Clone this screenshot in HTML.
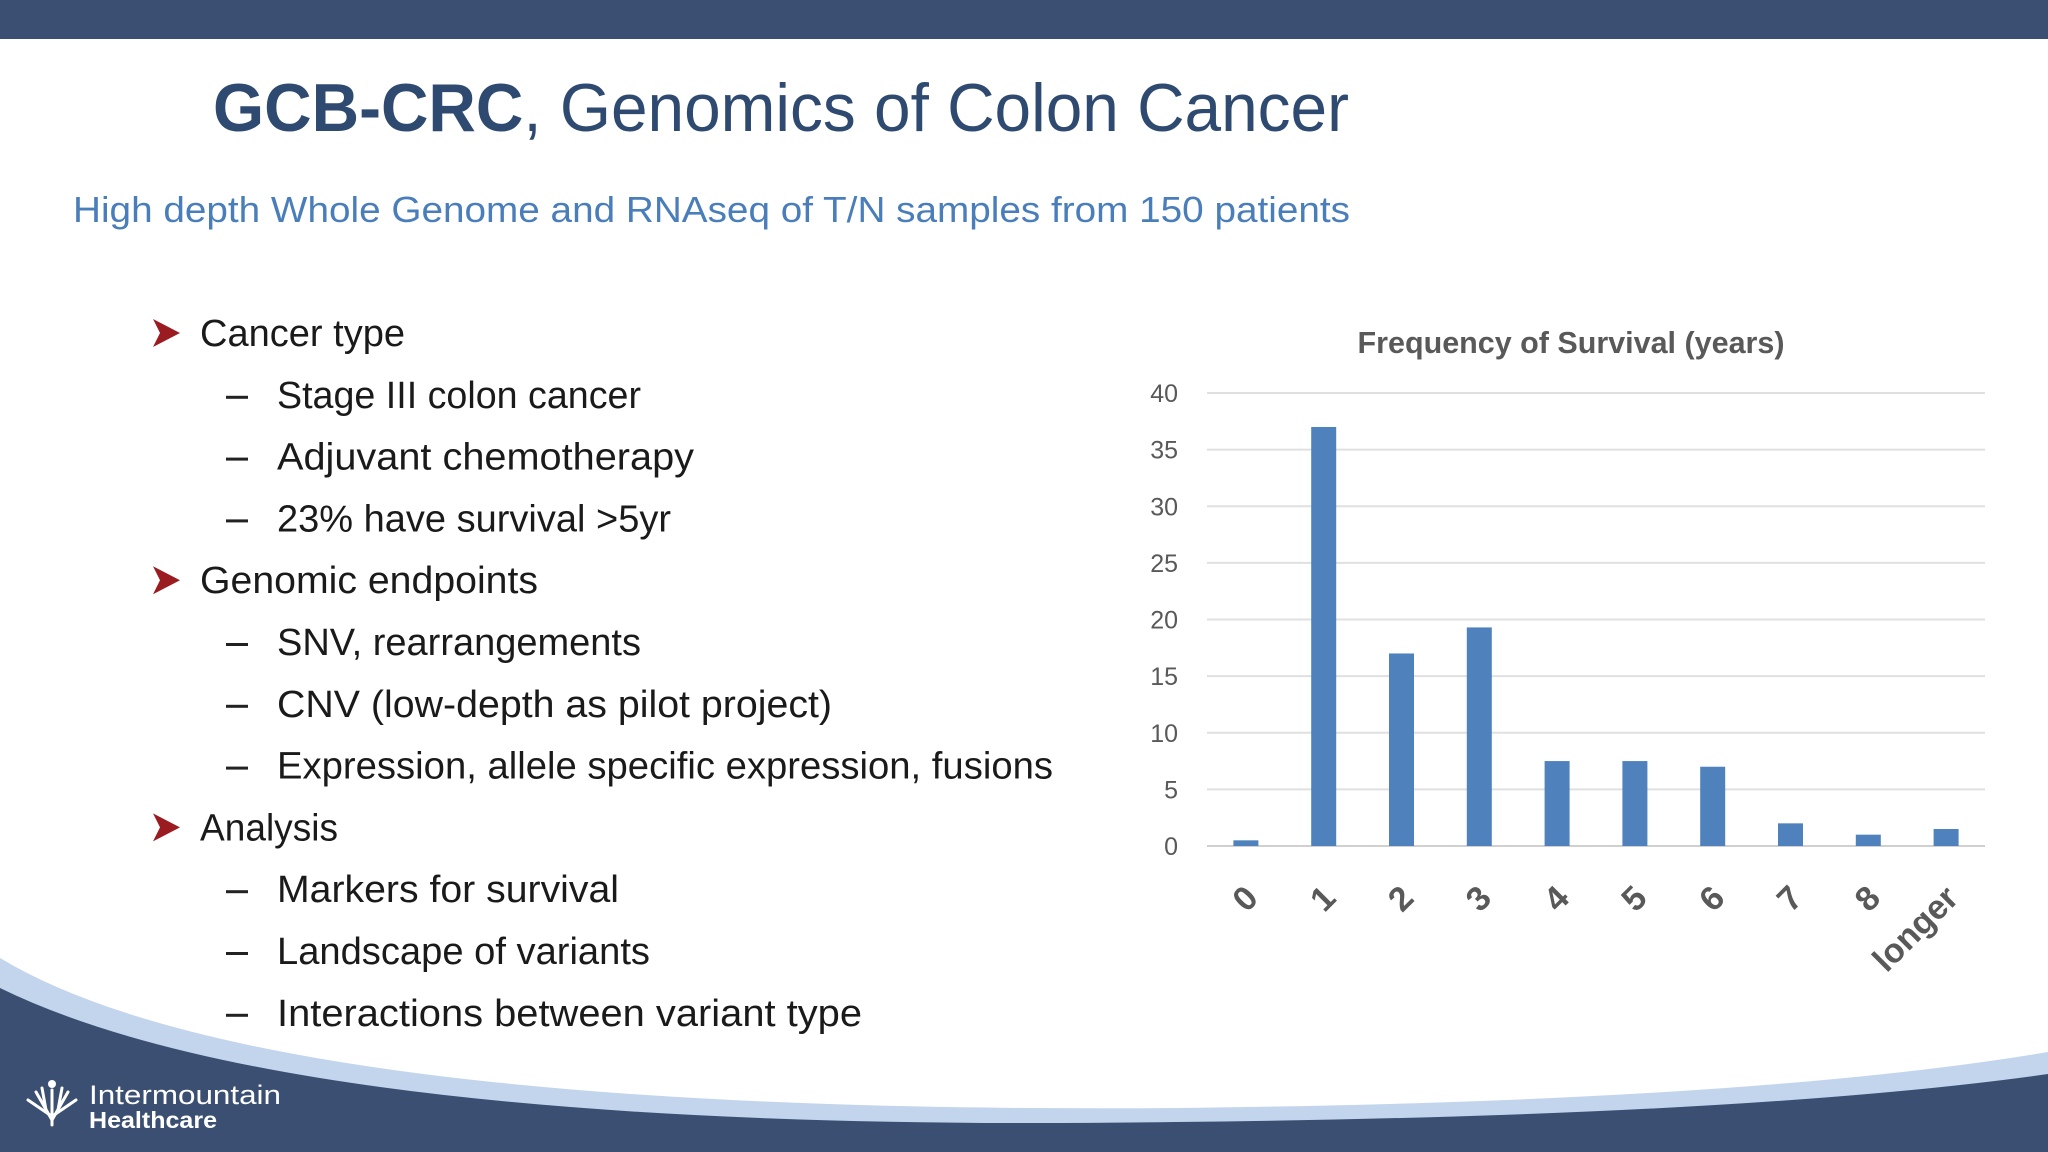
<!DOCTYPE html>
<html><head><meta charset="utf-8"><style>
html,body{margin:0;padding:0;background:#fff;}
svg{display:block;font-family:"Liberation Sans",sans-serif;}
</style></head><body>
<svg id="slide" width="2048" height="1152" viewBox="0 0 2048 1152">
<rect x="0" y="0" width="2048" height="1152" fill="#fff"/>
<rect x="0" y="0" width="2048" height="39" fill="#3b4f72"/>
<path d="M0,958 Q260,1115 1175,1108 Q1750,1102 2048,1052 L2048,1152 L0,1152 Z" fill="#c3d5ec"/>
<path d="M0,988 Q300,1135 1175,1122 Q1750,1116 2048,1074 L2048,1152 L0,1152 Z" fill="#3b4f72"/>
<text x="213" y="131" font-size="68" fill="#2f4a70" textLength="1136" lengthAdjust="spacingAndGlyphs"><tspan font-weight="bold">GCB-CRC</tspan>, Genomics of Colon Cancer</text>
<text x="73" y="222" font-size="36" fill="#4a7ebb" textLength="1277" lengthAdjust="spacingAndGlyphs">High depth Whole Genome and RNAseq of T/N samples from 150 patients</text>
<g id="bullets"></g>
<g id="chart"></g>
<g>
<g stroke="#fff" stroke-width="3" fill="none" stroke-linecap="round">
<path d="M52,1125 L52,1090"/><path d="M52,1120 L36,1092"/><path d="M52,1120 L68,1092"/><path d="M50,1115 L28,1100"/><path d="M54,1115 L76,1100"/><path d="M46,1110 L42,1088"/><path d="M58,1110 L62,1088"/>
</g>
<circle cx="52" cy="1084" r="4" fill="#fff"/>
<text x="89" y="1104" font-size="27" fill="#fff" textLength="192" lengthAdjust="spacingAndGlyphs">Intermountain</text>
<text x="89" y="1128" font-size="23" fill="#fff" font-weight="bold" textLength="128" lengthAdjust="spacingAndGlyphs">Healthcare</text>
</g>
</svg>
<script>
const NS='http://www.w3.org/2000/svg';
function mk(tag,attrs,parent){const e=document.createElementNS(NS,tag);for(const k in attrs)e.setAttribute(k,attrs[k]);parent.appendChild(e);return e;}
const bulletTexts=["Cancer type","Stage III colon cancer","Adjuvant chemotherapy","23% have survival >5yr","Genomic endpoints","SNV, rearrangements","CNV (low-depth as pilot project)","Expression, allele specific expression, fusions","Analysis","Markers for survival","Landscape of variants","Interactions between variant type"];
const bulletLevels=[1,2,2,2,1,2,2,2,1,2,2,2];
const bulletWidths=[205,364,417,394,338,364,555,776,138,342,373,585];
const bg=document.getElementById('bullets');
bulletTexts.forEach((t,i)=>{
  const cy=333+i*61.8;
  if(bulletLevels[i]===1){
    const a=mk('path',{d:`M153,${cy-14} L180,${cy} L153,${cy+14} L160,${cy} Z`,fill:'#9b1c20'},bg);
    
    
  } else {
    const d=mk('rect',{x:226,y:cy+1,width:22,height:3,fill:'#222'},bg);
    
    
  }
  const x=bulletLevels[i]===1?200:277;
  const tx=mk('text',{x:x,y:cy+13,'font-size':38,fill:'#1a1a1a',textLength:bulletWidths[i],lengthAdjust:'spacingAndGlyphs'},bg);
  tx.textContent=t;
  
  
});

const categories=["0","1","2","3","4","5","6","7","8","longer"];
const values=[0.5,37,17,19.3,7.5,7.5,7,2,1,1.5];
const yTicks=[0,5,10,15,20,25,30,35,40];
const X0=1207,X1=1985,Y0=846,Y1=393,YMAX=40;
const yScale=v=>Y0-(v/YMAX)*(Y0-Y1);
const band=(X1-X0)/categories.length;
const xScale=i=>X0+band*(i+0.5);
const cg=document.getElementById('chart');
const title=mk('text',{x:1571,y:353,'font-size':31,'font-weight':'bold',fill:'#595959','text-anchor':'middle',textLength:427,lengthAdjust:'spacingAndGlyphs'},cg);
title.textContent='Frequency of Survival (years)';


yTicks.forEach(v=>{
  const y=yScale(v);
  const l=mk('line',{x1:X0,x2:X1,y1:y,y2:y,stroke:v===0?'#d0d0d0':'#e0e0e0','stroke-width':2},cg);
  
  
  const t=mk('text',{x:1178,y:y+9,'font-size':25,fill:'#595959','text-anchor':'end'},cg);
  t.textContent=v;
  
  
});
values.forEach((v,i)=>{
  const w=25;
  const r=mk('rect',{x:xScale(i)-w/2,y:yScale(v),width:w,height:Y0-yScale(v),fill:'#4f81bd'},cg);
  
  
});
categories.forEach((c,i)=>{
  const x=xScale(i)+14,y=900;
  const t=mk('text',{x:x,y:y,'font-size':34,'font-weight':'bold',fill:'#595959','text-anchor':'end',transform:`rotate(-45 ${x} ${y})`},cg);
  t.textContent=c;
  
  
});
</script>
</body></html>
